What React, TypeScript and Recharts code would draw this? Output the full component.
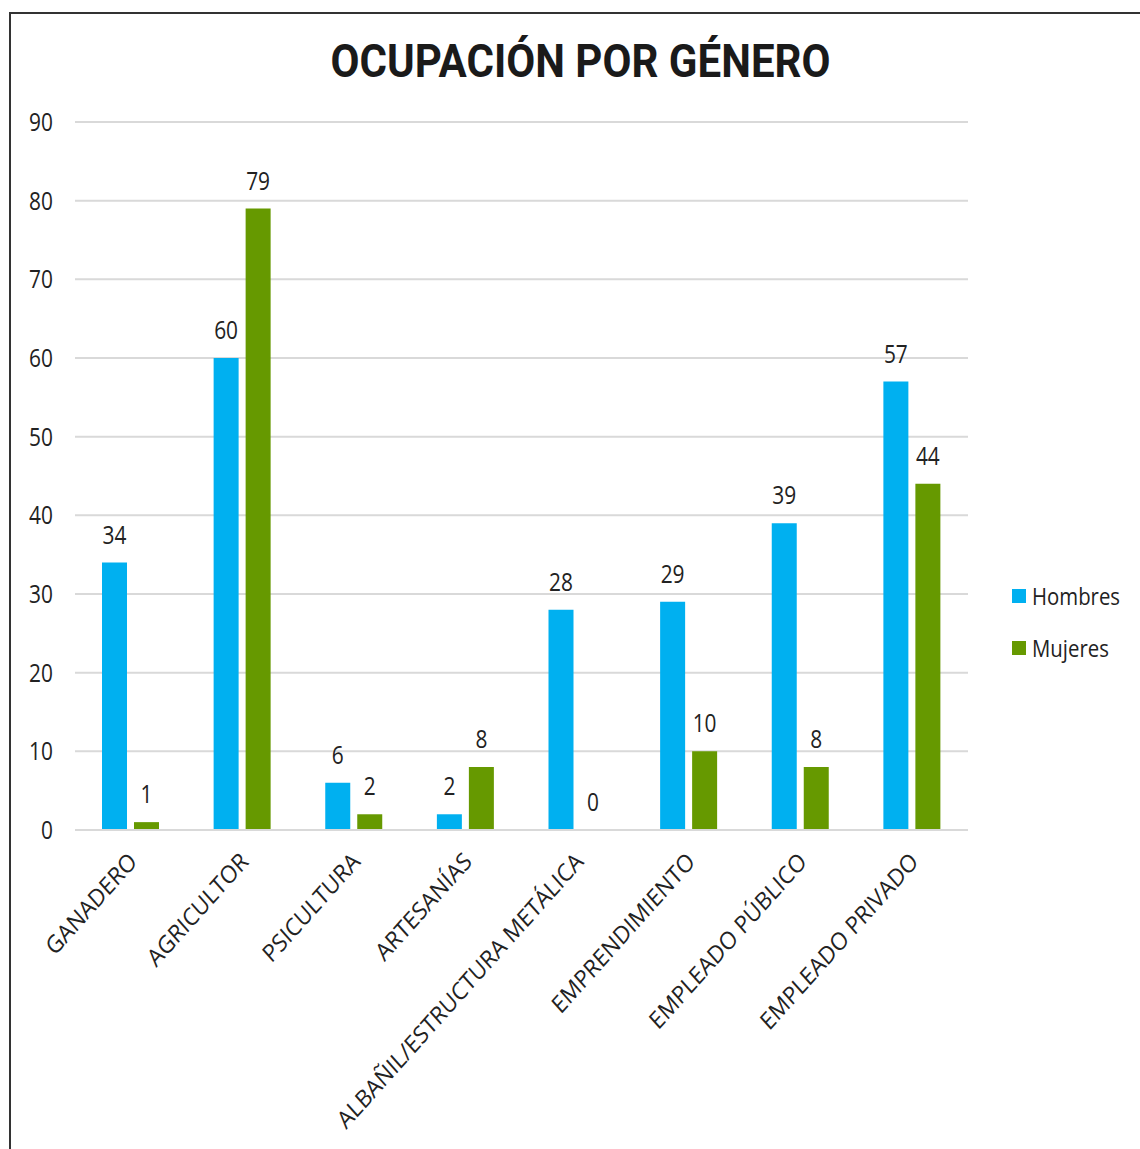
import { BarChart, Bar, XAxis, YAxis, CartesianGrid, Legend, LabelList } from 'recharts';

const categories = [
  'GANADERO',
  'AGRICULTOR',
  'PSICULTURA',
  'ARTESANÍAS',
  'ALBAÑIL/ESTRUCTURA METÁLICA',
  'EMPRENDIMIENTO',
  'EMPLEADO PÚBLICO',
  'EMPLEADO PRIVADO',
];
const hombres = [34, 60, 6, 2, 28, 29, 39, 57];
const mujeres = [1, 79, 2, 8, 0, 10, 8, 44];
const yTicks = [0, 10, 20, 30, 40, 50, 60, 70, 80, 90];

const BLUE = '#00b0f0';
const GREEN = '#669900';
const FONT = '"Open Sans", "Noto Sans", sans-serif';
const TXT = '#222';

const data = categories.map((name, i) => ({ name, Hombres: hombres[i], Mujeres: mujeres[i] }));

// the source font is narrow and tall, so the text is stretched a little
function CategoryTick({ x, y, payload }: { x: number; y: number; payload: { value: string } }) {
  return (
    <g transform={`translate(${x + 2},${y + 19}) scale(1,1.12) rotate(-45)`}>
      <text x={0} y={0} dy="0.35em" textAnchor="end" fill={TXT} fontSize={21.8} fontFamily={FONT}>
        {payload.value}
      </text>
    </g>
  );
}

function ValueTick({ x, y, payload }: { x: number; y: number; payload: { value: number } }) {
  return (
    <g transform={`translate(${x},${y}) scale(0.95,1.15)`}>
      <text x={0} y={0} dy="0.36em" textAnchor="end" fill={TXT} fontSize={22} fontFamily={FONT}>
        {payload.value}
      </text>
    </g>
  );
}

function BarLabel(props: any) {
  const { x, y, width, value } = props;
  return (
    <g transform={`translate(${x + width / 2},${y - 19}) scale(0.95,1.15)`}>
      <text x={0} y={0} textAnchor="middle" fill={TXT} fontSize={22} fontFamily={FONT}>
        {value}
      </text>
    </g>
  );
}

function LegendBox() {
  const items = [
    { name: 'Hombres', color: BLUE },
    { name: 'Mujeres', color: GREEN },
  ];
  return (
    <div style={{ fontFamily: FONT }}>
      {items.map((it) => (
        <div key={it.name} style={{ display: 'flex', alignItems: 'center', height: 26, marginBottom: 26 }}>
          <span style={{ width: 14, height: 14, background: it.color, marginRight: 6, display: 'inline-block' }} />
          <span style={{ fontSize: 21, color: TXT, display: 'inline-block', transform: 'scale(0.97,1.12)', transformOrigin: 'left center' }}>
            {it.name}
          </span>
        </div>
      ))}
    </div>
  );
}

export default function App() {
  return (
    <div style={{ position: 'absolute', left: 0, top: 0, width: 1140, height: 1149, background: '#fff' }}>
      <div
        style={{
          position: 'absolute',
          left: 9,
          top: 12,
          width: 1131,
          height: 1137,
          borderLeft: '2px solid #333',
          borderTop: '2px solid #333',
          boxSizing: 'border-box',
        }}
      />
      <svg width={1140} height={100} style={{ position: 'absolute', left: 0, top: 0 }}>
        <text
          x={580.5}
          y={77}
          textAnchor="middle"
          fontSize={46}
          fontWeight={700}
          fontFamily="Roboto, sans-serif"
          fill="#1a1a1a"
          textLength={500}
          lengthAdjust="spacingAndGlyphs"
        >
          OCUPACIÓN POR GÉNERO
        </text>
      </svg>
      <div style={{ position: 'absolute', left: 0, top: 0 }}>
        <BarChart
          width={1140}
          height={1149}
          data={data}
          margin={{ top: 122, right: 172, bottom: 0, left: 0 }}
          barSize={25}
          barGap={7}
        >
          <CartesianGrid vertical={false} stroke="#d9d9d9" strokeWidth={2} />
          <XAxis
            dataKey="name"
            interval={0}
            height={319}
            tickLine={false}
            axisLine={{ stroke: '#d9d9d9', strokeWidth: 2 }}
            tick={CategoryTick}
          />
          <YAxis
            domain={[0, 90]}
            ticks={yTicks}
            width={75}
            axisLine={false}
            tickLine={false}
            tickMargin={16}
            tick={ValueTick}
          />
          <Legend
            layout="vertical"
            align="center"
            verticalAlign="middle"
            wrapperStyle={{ left: 1012, top: 583, width: 128 }}
            content={() => <LegendBox />}
          />
          <Bar dataKey="Hombres" fill={BLUE} isAnimationActive={false}>
            <LabelList dataKey="Hombres" content={BarLabel} />
          </Bar>
          <Bar dataKey="Mujeres" fill={GREEN} isAnimationActive={false} minPointSize={0.01}>
            <LabelList dataKey="Mujeres" content={BarLabel} />
          </Bar>
        </BarChart>
      </div>
    </div>
  );
}
